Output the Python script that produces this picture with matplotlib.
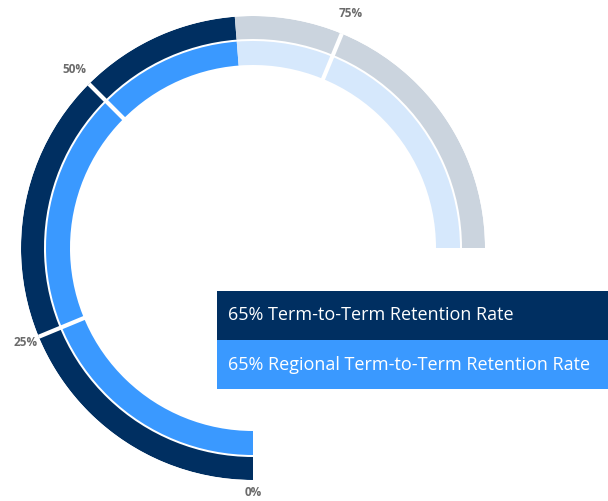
import numpy as np
import matplotlib
matplotlib.use("Agg")
import matplotlib.pyplot as plt
from matplotlib.patches import Rectangle

plt.rcParams['font.family'] = ['Open Sans', 'DejaVu Sans']

# Data
series_names = ["Term-to-Term Retention Rate", "Regional Term-to-Term Retention Rate"]
series_values = [65, 65]          # percent
tick_values = [0, 25, 50, 75]
tick_labels = ["0%", "25%", "50%", "75%"]

fill_colors = ["#002f61", "#3a99ff"]
track_colors = ["#cbd4de", "#d6e8fc"]

W, H = 608, 501
fig = plt.figure(figsize=(W / 100, H / 100), dpi=100)
cx, cy, R = 253, 248, 232
ax = fig.add_axes([(cx - R) / W, (H - cy - R) / H, 2 * R / W, 2 * R / H], projection='polar')
ax.set_theta_zero_location('S')
ax.set_theta_direction(-1)
ax.set_ylim(0, R)
ax.axis('off')

span = 1.5 * np.pi  # 270 degrees = 100%
ring_bottoms = [209, 183]
ring_height = [23, 24]

def th(v):
    return v / 100.0 * span

for i, v in enumerate(series_values):
    b, h = ring_bottoms[i], ring_height[i]
    ax.bar(0, h, width=th(v), bottom=b, align='edge', color=fill_colors[i], linewidth=0)
    ax.bar(th(v), h, width=th(100 - v), bottom=b, align='edge', color=track_colors[i], linewidth=0)

for tv in tick_values[1:]:
    ax.plot([th(tv), th(tv)], [180, 234], color='white', lw=3, solid_capstyle='butt')

label_r = [245, 246, 252, 254]
for tv, tl, r in zip(tick_values, tick_labels, label_r):
    ax.text(th(tv), r, tl, ha='center', va='center', fontsize=8.5, fontweight='bold',
            color='#6b6b6b', clip_on=False)

# Legend boxes
box_x0 = 217
box_tops = [291, 340]
box_h = 49
for i, (name, v) in enumerate(zip(series_names, series_values)):
    top = box_tops[i]
    fig.add_artist(Rectangle((box_x0 / W, (H - top - box_h) / H), (W - box_x0) / W, box_h / H,
                             transform=fig.transFigure, color=fill_colors[i], linewidth=0))
    fig.text(228 / W, (H - top - box_h / 2) / H, f"{v}% {name}", color='white',
             fontsize=13, ha='left', va='center')

fig.savefig("out.png", dpi=100, facecolor='white')
